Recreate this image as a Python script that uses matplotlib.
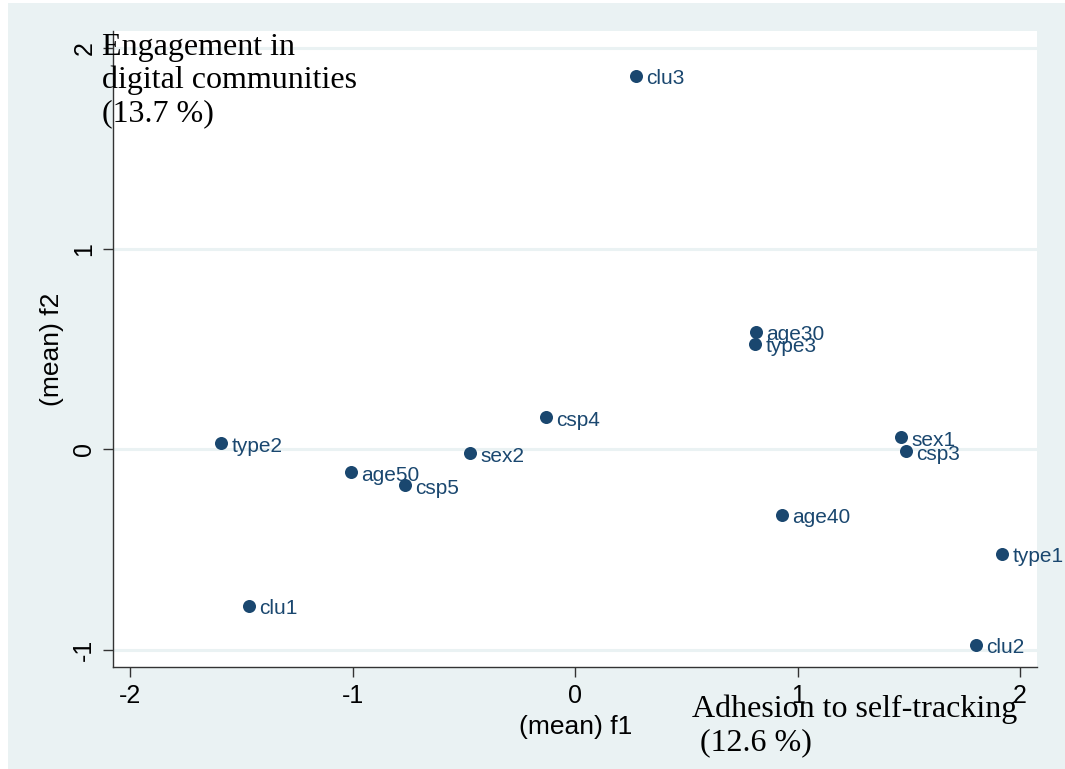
import matplotlib
matplotlib.use("Agg")
import matplotlib.pyplot as plt
from matplotlib.patches import Rectangle

# ---- data ----
labels = ["clu3", "age30", "type3", "csp4", "type2", "sex1", "csp3", "sex2",
          "age50", "csp5", "age40", "type1", "clu1", "clu2"]
f1 = [0.274, 0.813, 0.809, -0.130, -1.591, 1.465, 1.488, -0.472,
      -1.007, -0.764, 0.930, 1.919, -1.465, 1.802]
f2 = [1.861, 0.587, 0.527, 0.159, 0.030, 0.060, -0.010, -0.020,
      -0.114, -0.179, -0.328, -0.522, -0.781, -0.975]
xticks = [-2, -1, 0, 1, 2]
yticks = [-1, 0, 1, 2]
xtitle = "(mean) f1"
ytitle = "(mean) f2"
dim1_label = "Adhesion to self-tracking\n (12.6 %)"
dim2_label = "Engagement in\ndigital communities\n(13.7 %)"

NAVY = "#1a476f"
BG = "#eaf2f3"
SANS = ["Liberation Sans", "DejaVu Sans"]
SERIF = ["Liberation Serif", "DejaVu Serif"]

W, H = 1065, 769
fig = plt.figure(figsize=(W / 100, H / 100), dpi=100, facecolor="white")
bgrect = Rectangle((8 / W, 0), 1 - 8 / W, (H - 3) / H,
                   transform=fig.transFigure, facecolor=BG,
                   edgecolor="none", zorder=-10)
fig.add_artist(bgrect)

ax = fig.add_axes([113.3 / W, 102.3 / H, (1037 - 113.3) / W, (666.7 - 31) / H])
ax.set_zorder(1)
ax.set_facecolor("white")
ax.set_xlim(-2.075, 2.076)
ax.set_ylim(-1.083, 2.085)

for s in ["top", "right"]:
    ax.spines[s].set_visible(False)
for s in ["left", "bottom"]:
    ax.spines[s].set_color("#333333")
    ax.spines[s].set_linewidth(1.0)

ax.set_xticks(xticks)
ax.set_yticks(yticks)
ax.set_xticklabels([str(t) for t in xticks], family=SANS, fontsize=18)
ax.set_yticklabels([str(t) for t in yticks], family=SANS, fontsize=18,
                   rotation=90, va="center")
ax.tick_params(axis="both", length=7.2, width=1.0, color="#333333")
ax.tick_params(axis="x", pad=5)
ax.tick_params(axis="y", pad=5)

for t in yticks:
    ax.axhline(t, color=BG, lw=2.2, zorder=1)

ax.scatter(f1, f2, s=88, color=NAVY, zorder=3, linewidths=0)
for lab, x, y in zip(labels, f1, f2):
    ax.annotate(lab, (x, y), xytext=(7.5, -2.0), textcoords="offset points",
                ha="left", va="center", color=NAVY, fontsize=15,
                family=SANS, zorder=4)

ax.set_xlabel(xtitle, family=SANS, fontsize=19, labelpad=5.5)
ax.set_ylabel(ytitle, family=SANS, fontsize=19, labelpad=6)

ax.text(-2.126, 2.075, dim2_label, ha="left", va="top", family=SERIF,
        fontsize=23, color="black", linespacing=1.17, clip_on=False, zorder=5)
ax.text(0.526, -1.224, dim1_label, ha="left", va="top", family=SERIF,
        fontsize=23, color="black", linespacing=1.17, clip_on=False, zorder=5)

fig.savefig("out.png", dpi=100, facecolor="white")
